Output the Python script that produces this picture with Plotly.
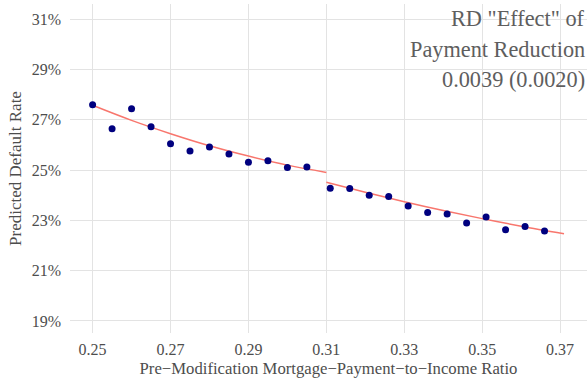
import plotly.graph_objects as go

# Binned means (percent)
left_x = [0.25, 0.255, 0.26, 0.265, 0.27, 0.275, 0.28, 0.285, 0.29, 0.295, 0.30, 0.305]
left_y = [27.60, 26.65, 27.44, 26.73, 26.05, 25.76, 25.92, 25.64, 25.31, 25.37, 25.10, 25.12]
right_x = [0.311, 0.316, 0.321, 0.326, 0.331, 0.336, 0.341, 0.346, 0.351, 0.356, 0.361, 0.366]
right_y = [24.28, 24.27, 24.00, 23.95, 23.57, 23.31, 23.25, 22.90, 23.14, 22.63, 22.76, 22.58]

# Fitted curves (percent)
left_fit_x = [0.25, 0.26, 0.27, 0.28, 0.29, 0.30, 0.31]
left_fit_y = [27.58, 26.98, 26.45, 25.97, 25.56, 25.20, 24.91]
right_fit_x = [0.31, 0.32, 0.33, 0.34, 0.35, 0.36, 0.371]
right_fit_y = [24.52, 24.12, 23.74, 23.39, 23.07, 22.77, 22.47]

x_ticks = [0.25, 0.27, 0.29, 0.31, 0.33, 0.35, 0.37]
x_tick_labels = ["0.25", "0.27", "0.29", "0.31", "0.33", "0.35", "0.37"]
y_ticks = [19, 21, 23, 25, 27, 29, 31]
y_tick_labels = ["19%", "21%", "23%", "25%", "27%", "29%", "31%"]

annotation_lines = ['RD "Effect" of', 'Payment Reduction', '0.0039 (0.0020)']

FONT = "Liberation Serif"
LINE_COLOR = "#F8766D"
DOT_COLOR = "#00007F"

fig = go.Figure()
for fx, fy in [(left_fit_x, left_fit_y), (right_fit_x, right_fit_y)]:
    fig.add_trace(go.Scatter(x=fx, y=fy, mode="lines", line=dict(color=LINE_COLOR, width=1.5, shape="spline"),
                             showlegend=False, hoverinfo="skip"))
for px, py in [(left_x, left_y), (right_x, right_y)]:
    fig.add_trace(go.Scatter(x=px, y=py, mode="markers", marker=dict(color=DOT_COLOR, size=7),
                             showlegend=False))

ann_y = [0.956, 0.862, 0.769]
annotations = [dict(text=t, xref="paper", yref="paper", x=1.0, y=yy,
                    xanchor="right", yanchor="middle", align="right", showarrow=False,
                    font=dict(family=FONT, size=22.3, color="#5E5E5E"))
               for t, yy in zip(annotation_lines, ann_y)]

fig.update_layout(
    width=588, height=383,
    margin=dict(l=70, r=1, t=4, b=50),
    paper_bgcolor="white", plot_bgcolor="white",
    font=dict(family=FONT, size=16, color="#4D4D4D"),
    xaxis=dict(range=[0.2442, 0.3769], tickvals=x_ticks, ticktext=x_tick_labels,
               showgrid=True, gridcolor="#E3E3E3", gridwidth=1, zeroline=False,
               showline=False, ticks="", ticklabelstandoff=5,
               title=dict(text="Pre\u2212Modification Mortgage\u2212Payment\u2212to\u2212Income Ratio",
                          font=dict(family=FONT, size=16.7, color="#4D4D4D"), standoff=5)),
    yaxis=dict(range=[18.52, 31.61], tickvals=y_ticks, ticktext=y_tick_labels,
               showgrid=True, gridcolor="#E3E3E3", gridwidth=1, zeroline=False,
               showline=False, ticks="", ticklabelstandoff=8,
               title=dict(text="Predicted Default Rate",
                          font=dict(family=FONT, size=17, color="#4D4D4D"), standoff=5)),
    annotations=annotations,
)

fig.write_html("out.html", config={"displayModeBar": False},
               post_script="document.body.style.margin='0px';")
